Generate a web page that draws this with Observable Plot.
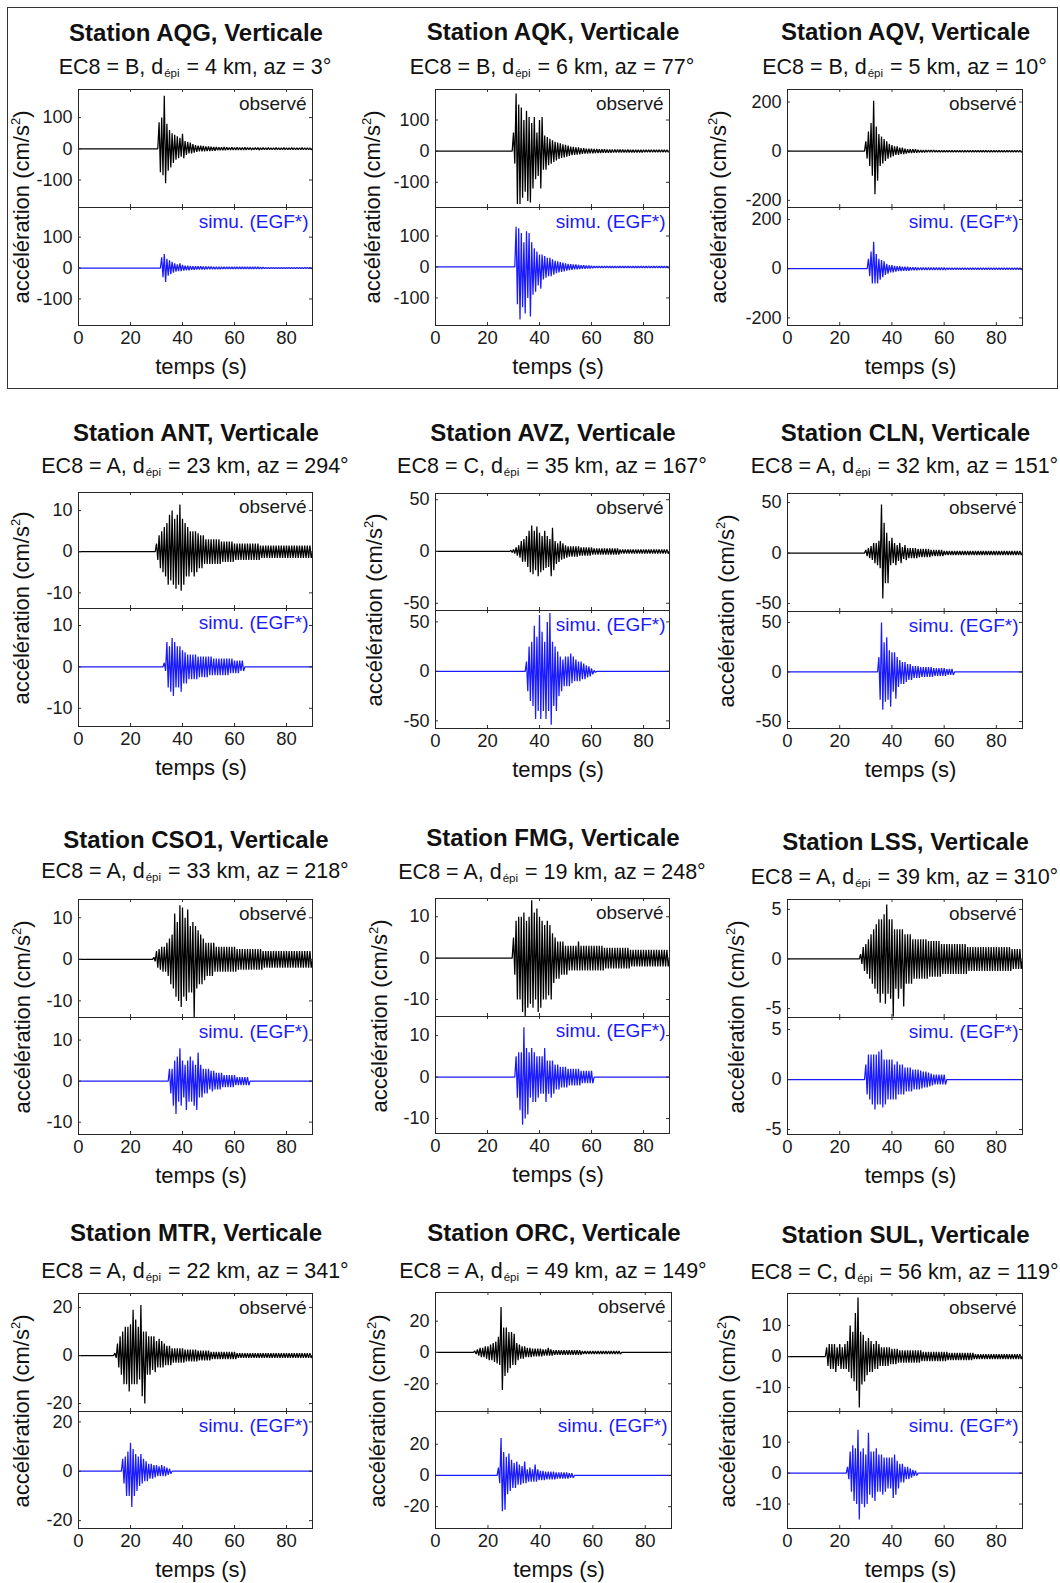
<!DOCTYPE html>
<html><head><meta charset="utf-8">
<script src="https://cdn.jsdelivr.net/npm/d3@7"></script>
<script src="https://cdn.jsdelivr.net/npm/@observablehq/plot@0.6"></script>
<style>
body{margin:0;background:#fff;font-family:"Liberation Sans",Arial,Helvetica,sans-serif;color:#111;}
#page{position:relative;width:1060px;height:1583px;overflow:hidden;}
.box{position:absolute;box-sizing:border-box;border:1.4px solid #333;}
.t{position:absolute;white-space:nowrap;transform:translate(-50%,-50%);line-height:1;}
.title{font-weight:bold;font-size:24px;}
.sub{font-size:21.5px;}
.sub .s{font-size:11.5px;position:relative;top:3px;margin:0 1px;}
.ylab{font-size:22px;transform:translate(-50%,-50%) rotate(-90deg);}
.ylab sup{font-size:13px;position:relative;top:-2px;vertical-align:top;}
.xlab{font-size:22px;}
.plot{position:absolute;}
</style></head>
<body><div id="page"></div>
<script>
// ---------- chart values ----------
const stations = ["AQG","AQK","AQV","ANT","AVZ","CLN","CSO1","FMG","LSS","MTR","ORC","SUL"];
const ec8 = ["B","B","B","A","C","A","A","A","A","A","A","C"];
const dEpi = [4,6,5,23,35,32,33,19,39,22,49,56];
const azimuth = [3,77,10,294,167,151,218,248,310,341,149,119];
const xTicks = [0,20,40,60,80];
const yTicks = [[-100,0,100],[-100,0,100],[-200,0,200],[-10,0,10],[-50,0,50],[-50,0,50],
                [-10,0,10],[-10,0,10],[-5,0,5],[-20,0,20],[-20,0,20],[-10,0,10]];
const obsDomain = [[-188,190],[-181,198],[-229,251],[-13.8,14.4],[-57,56],[-58,59],
                   [-14,14.4],[-14.1,14.4],[-5.9,6],[-23.3,25.8],[-37.7,38.3],[-17.7,20.3]];
const simDomain = [[-186,196],[-189,192],[-231,249],[-14.4,14.1],[-57.7,61.5],[-57,61],
                   [-13,15.5],[-13.6,14.6],[-5.5,6.2],[-23.2,24.2],[-34,41],[-17.9,19.9]];
// onset times (s) of each trace
const obsStart = [31,30,30,30,29,30,29,30,28,14,15,15];
const simStart = [32,31,31,33,35,35,35,31,30,17,24,23];

// peak envelopes (positive / negative) per second from onset
const aqgObsUp = [85,100,170,80,60,50,45,40,35,48,25,22,20,15,12,10,10,9,8,8,7,6,6,5,5,6,5,4,5,4,5,4,4,5,4,4,3,4,4,3,4,3,4,3,3,4,3,3,4,3,3,4,3,3,3,4,3,3,3];
const aqgObsDn = [-75,-85,-110,-70,-60,-45,-35,-30,-25,-30,-20,-15,-15,-12,-10,-8,-8,-8,-7,-7,-6,-6,-5,-5,-5,-5,-4,-4,-4,-4,-4,-4,-4,-4,-3,-4,-3,-3,-4,-3,-3,-3,-3,-3,-3,-3,-3,-3,-3,-3,-3,-3,-3,-3,-3,-3,-3,-3,-3];
const aqgSimUp = [35,45,30,25,20,15,12,15,10,8,8,7,6,6,6,6,5,5,5,5,4,4,4,4,4,4,4,4,4,4,4,4,4,4,4,4,4,4,3,3,2,2,2,2,2,2,2,2,2,2,2,2,2,2,2,2,2,2];
const aqgSimDn = [-30,-45,-25,-20,-15,-12,-10,-10,-8,-7,-7,-6,-6,-5,-5,-5,-5,-4,-4,-4,-4,-4,-4,-3,-3,-3,-3,-3,-3,-3,-3,-3,-3,-3,-3,-3,-3,-3,-3,-2,-2,-2,-2,-2,-2,-2,-2,-2,-2,-2,-2,-2,-2,-2,-2,-2,-2,-2];

const aqkObsUp = [60,185,150,140,100,130,110,90,110,60,100,110,50,45,40,35,30,28,25,22,20,18,15,14,12,12,10,10,8,8,8,7,7,6,6,6,5,5,5,5,5,5,5,4,5,4,4,4,4,4,4,4,4,4,4,4,4,4,4,4];
const aqkObsDn = [-40,-170,-170,-150,-130,-160,-165,-120,-90,-80,-120,-60,-60,-45,-40,-35,-30,-25,-22,-20,-18,-15,-13,-12,-11,-10,-9,-8,-8,-7,-7,-6,-6,-6,-5,-5,-5,-5,-4,-4,-4,-4,-4,-4,-4,-4,-4,-4,-4,-4,-3,-3,-3,-3,-3,-3,-3,-3,-3,-3];
const aqkSimUp = [130,125,110,80,115,110,80,60,50,40,40,35,30,30,25,20,18,16,14,12,10,9,8,8,7,6,6,5,5,4,3,3,3,3,3,3,3,3,3,3,3,3,3,3,3,3,3,3,3,3,3,3,3,3,3,3,3,3,3];
const aqkSimDn = [-120,-170,-130,-150,-100,-160,-90,-80,-60,-70,-40,-35,-30,-30,-25,-20,-18,-16,-14,-12,-10,-9,-8,-8,-7,-6,-6,-5,-5,-4,-3,-3,-3,-3,-3,-3,-3,-3,-3,-3,-3,-3,-3,-3,-3,-3,-3,-3,-3,-3,-3,-3,-3,-3,-3,-3,-3,-3,-3];

const aqvObsUp = [40,80,115,205,100,70,60,50,40,30,25,20,20,15,15,10,8,8,8,8,6,5,5,5,5,5,5,4,4,4,4,4,4,4,4,4,4,4,4,4,4,4,4,4,4,4,4,4,4,4,4,4,4,4,4,4,4,4,4,4];
const aqvObsDn = [-30,-60,-100,-175,-120,-60,-50,-40,-30,-25,-20,-15,-15,-12,-12,-10,-8,-7,-6,-6,-5,-5,-5,-4,-4,-4,-4,-4,-4,-4,-4,-4,-4,-4,-4,-4,-4,-4,-4,-4,-4,-4,-4,-4,-4,-4,-4,-4,-4,-4,-4,-4,-4,-4,-4,-4,-4,-4,-4,-4];
const aqvSimUp = [40,70,110,60,40,35,30,20,15,15,12,10,10,8,8,8,6,6,6,5,5,5,5,5,5,5,5,5,5,5,4,4,4,4,4,4,4,4,4,4,4,4,4,4,4,4,4,4,4,4,4,4,4,4,4,4,4,4,4];
const aqvSimDn = [-30,-60,-60,-60,-45,-35,-25,-20,-15,-15,-12,-10,-10,-8,-8,-8,-6,-6,-6,-5,-5,-5,-5,-5,-5,-5,-5,-5,-5,-5,-4,-4,-4,-4,-4,-4,-4,-4,-4,-4,-4,-4,-4,-4,-4,-4,-4,-4,-4,-4,-4,-4,-4,-4,-4,-4,-4,-4,-4];

const antObsUp = [2,4,5,6,7,9,10,8,9,11.5,8,7,6,5,5,5,4.5,4,4,3,3,3,3,3,3,2.5,2.5,2.5,2.5,2.5,2,2,2,2,2,2,2,2,2,2,1.5,1.5,1.5,1.5,1.5,1.5,1.5,1.5,1.5,1.5,1.5,1.5,1.5,1.5,1.5,1.5,1.5,1.5,1.5,1.5];
const antObsDn = [-2,-4,-5,-6,-8,-7,-8,-9,-8,-9.5,-8,-6,-6,-5,-6,-5,-4,-4,-3,-3,-3,-3,-3,-3,-3,-2.5,-2.5,-2.5,-2.5,-2.5,-2,-2,-2,-2,-2,-2,-2,-2,-2,-2,-1.5,-1.5,-1.5,-1.5,-1.5,-1.5,-1.5,-1.5,-1.5,-1.5,-1.5,-1.5,-1.5,-1.5,-1.5,-1.5,-1.5,-1.5,-1.5,-1.5];
const antSimUp = [1,6,5,7,6,5,5,4,3.5,3,3,3,3,2.5,2.5,2.5,2.5,2.5,2.5,2,2,2,2,2,2,2,2,1.5,1.5,1.5,1.5];
const antSimDn = [-1,-5,-6,-7,-5,-5,-6,-4,-4,-3,-3,-3,-3,-2.5,-2.5,-2.5,-2.5,-2,-2,-2,-2,-2,-2,-2,-2,-1.5,-1.5,-1.5,-1.5,-1,-1];

const avzObsUp = [1,2,4,6,10,12,15,20,25,20,24,18,15,20,15,12,23,10,8,10,8,6,5,5,5,5,5,4,4,4,4,4,3,3,3,3,3,3,3,3,3,3,2,2,2,2,2,2,2,2,2,2,2,2,2,2,2,2,2,2,2];
const avzObsDn = [-1,-2,-4,-6,-10,-10,-15,-20,-22,-18,-24,-20,-18,-16,-15,-24,-18,-12,-10,-8,-7,-6,-5,-5,-5,-5,-4,-4,-4,-4,-4,-3,-3,-3,-3,-3,-3,-3,-3,-3,-3,-3,-2,-2,-2,-2,-2,-2,-2,-2,-2,-2,-2,-2,-2,-2,-2,-2,-2,-2,-2];
const avzSimUp = [10,25,30,46,35,57,40,30,50,59,30,25,20,15,12,15,15,18,15,12,10,10,8,6,5,3,1];
const avzSimDn = [-20,-30,-35,-48,-40,-48,-40,-48,-40,-54,-35,-40,-25,-20,-15,-15,-15,-12,-10,-10,-10,-8,-8,-6,-5,-3,-1];

const clnObsUp = [3,5,7,10,10,12,48,30,20,12,15,10,8,10,6,8,5,5,5,5,4,4,4,4,4,3,3,3,3,3,2,2,2,2,2,2,2,2,2,2,2,2,2,2,2,2,2,2,2,2,2,2,2,2,2,2,2,2,2,2];
const clnObsDn = [-3,-5,-7,-10,-12,-15,-45,-30,-30,-12,-10,-12,-8,-10,-6,-7,-5,-5,-5,-5,-4,-4,-4,-4,-4,-3,-3,-3,-3,-3,-2,-2,-2,-2,-2,-2,-2,-2,-2,-2,-2,-2,-2,-2,-2,-2,-2,-2,-2,-2,-2,-2,-2,-2,-2,-2,-2,-2,-2,-2];
const clnSimUp = [15,50,30,35,22,20,20,15,12,10,10,8,8,6,6,6,5,5,5,5,5,4,4,4,4,4,3,3,3];
const clnSimDn = [-28,-38,-30,-28,-35,-20,-27,-15,-12,-12,-10,-8,-8,-6,-6,-6,-5,-5,-5,-5,-5,-4,-4,-4,-4,-4,-3,-3,-3];

const csoObsUp = [0.5,2,2.5,3,3,4,5,6,11,9,13,12.5,10,12,8,9,8,7,6,5,4,4,4,4,3,3,3,3,3,3,3,3,2.5,2.5,2.5,2.5,2.5,2.5,2.5,2.5,2.5,2.5,2,2,2,2,2,2,2,2,2,2,2,2,2,2,2,2,2,2,2];
const csoObsDn = [-0.5,-2,-2.5,-3,-3,-4,-6,-7,-9,-10,-11.5,-9,-10,-8,-8,-14,-7,-6,-6,-5,-4,-4,-4,-3,-3,-3,-3,-3,-3,-3,-3,-3,-2.5,-2.5,-2.5,-2.5,-2.5,-2.5,-2.5,-2.5,-2.5,-2.5,-2,-2,-2,-2,-2,-2,-2,-2,-2,-2,-2,-2,-2,-2,-2,-2,-2,-2,-2];
const csoSimUp = [3,3,5,6,8,5,4,5,6,5,4,7,4,3,3,3,2.5,2.5,2,2,2,1.5,1.5,1.5,1.5,1.5,1,1,1,1,1];
const csoSimDn = [-3,-6,-8,-5,-6,-4,-7,-5,-5,-6,-7,-4,-4,-3,-3,-2,-2.5,-2,-2,-2,-1.5,-1.5,-1.5,-1.5,-1.5,-1,-1,-1,-1,-1,-1];

const fmgObsUp = [5,9,10,10,11,9,10,14,11,12,10,9,8,9,8,6,5,4,4,4,3,3,3,3,3,4,3,3,3,3,3,3,3,3,3,2.5,2.5,2.5,2.5,2.5,2.5,2.5,2.5,2.5,2.5,2,2,2,2,2,2,2,2,2,2,2,2,2,2,2];
const fmgObsDn = [-4,-10,-10,-13,-14,-12,-11,-12,-10,-13,-12,-10,-10,-9,-10,-6,-5,-5,-4,-4,-4,-3,-3,-3,-3,-3,-3,-3,-3,-3,-3,-3,-3,-3,-3,-2.5,-2.5,-2.5,-2.5,-2.5,-2.5,-2.5,-2.5,-2.5,-2.5,-2,-2,-2,-2,-2,-2,-2,-2,-2,-2,-2,-2,-2,-2,-2];
const fmgSimUp = [5,6,6,12,7,6,7,6,5,5,5,7,4,4,4,3,3,2.5,2.5,2.5,2,2,2,2,2,1.5,1.5,1.5,1.5,1.5];
const fmgSimDn = [-5,-8,-11.5,-10,-9,-5,-6,-6,-5,-4,-4,-6,-4,-5,-4,-3,-3,-2.5,-2.5,-2.5,-2,-2,-2,-2,-2,-1.5,-1.5,-1.5,-1.5,-1.5];

const lssObsUp = [0.5,1.2,1.5,2,2.5,3,3.5,4,4,4.5,5.5,4,4,3,3,3,3,2.5,2.5,2.5,2,2,2,2,2,2,1.8,1.8,1.8,1.8,1.8,1.5,1.5,1.5,1.5,1.5,1.5,1.5,1.5,1.5,1.5,1.2,1.2,1.2,1.2,1.2,1.2,1.2,1.2,1.2,1.2,1.2,1.2,1.2,1.2,1.2,1.2,1.2,1,1,1,1];
const lssObsDn = [-0.5,-1.2,-1.5,-2,-2.5,-3,-3.5,-4.4,-3.5,-4.5,-3.5,-4,-5.8,-3,-4,-3,-4.8,-2.5,-2.5,-2.5,-2,-2,-2,-2,-2,-2,-1.8,-1.8,-1.8,-1.8,-1.8,-1.5,-1.5,-1.5,-1.5,-1.5,-1.5,-1.5,-1.5,-1.5,-1.5,-1.2,-1.2,-1.2,-1.2,-1.2,-1.2,-1.2,-1.2,-1.2,-1.2,-1.2,-1.2,-1.2,-1.2,-1.2,-1.2,-1.2,-1,-1,-1,-1];
const lssSimUp = [1.5,2.5,2.5,2.5,2.5,2.8,3,2,2,2,2,1.5,1.8,1.5,1.5,1.2,1.2,1.2,1,1,1,0.9,0.8,0.8,0.7,0.6,0.5,0.5,0.5,0.5,0.5];
const lssSimDn = [-1.5,-2,-2.5,-3,-2.5,-2.5,-2.8,-2.5,-2,-2,-2,-2,-1.5,-1.5,-1.5,-1.2,-1.2,-1.2,-1,-1,-1,-0.9,-0.8,-0.8,-0.7,-0.6,-0.5,-0.5,-0.5,-0.5,-0.5];

const mtrObsUp = [1,5,8,10,12,12,13,19,15,12,21,10,10,8,8,8,6,7,6,5,4,4,3,3,3,3,3,2.5,2.5,2.5,2.5,2.5,2,2,2,2,2,1.5,1.5,1.5,1.5,1.5,1.5,1.5,1.5,1.5,1.5,1,1,1,1,1,1,1,1,1,1,1,1,1,1,1,1,1,1,1,1,1,1,1,1,1,1,1,1,1];
const mtrObsDn = [-1,-5,-8,-12,-12,-15,-12,-12,-12,-10,-17,-20,-8,-8,-6,-7,-5,-5,-5,-4,-4,-4,-3,-3,-3,-3,-3,-2.5,-2.5,-2.5,-2.5,-2.5,-2,-2,-2,-2,-2,-1.5,-1.5,-1.5,-1.5,-1.5,-1.5,-1.5,-1.5,-1.5,-1.5,-1,-1,-1,-1,-1,-1,-1,-1,-1,-1,-1,-1,-1,-1,-1,-1,-1,-1,-1,-1,-1,-1,-1,-1,-1,-1,-1,-1,-1];
const mtrSimUp = [5,6,8,11.5,9,7,6,7,5,4,3,3,2.5,2.5,2,2.5,2,1.5,1];
const mtrSimDn = [-5,-10,-10,-14.5,-10,-8,-6,-5,-4,-4,-3,-3,-2.5,-2,-2,-2,-2,-1.5,-1];

const orcObsUp = [1,2,3,3,4,4,5,6,7,10,29,16,16,13,13,12,6,5,4,4,3,3,2.5,2.5,2.5,2.5,2,2,3,2,1.5,1.5,1.5,1.5,1.5,1.5,1.5,1.5,1.5,1.5,1.5,1,1,1,1,1,1,1,1,1,1,1,1,1,1,1];
const orcObsDn = [-1,-2,-3,-3,-4,-5,-5,-6,-7,-8,-24,-15,-13,-10,-8,-8,-5,-4,-4,-3,-3,-3,-2.5,-2.5,-2.5,-2.5,-2,-2,-2,-2,-1.5,-1.5,-1.5,-1.5,-1.5,-1.5,-1.5,-1.5,-1.5,-1.5,-1.5,-1,-1,-1,-1,-1,-1,-1,-1,-1,-1,-1,-1,-1,-1,-1];
const orcSimUp = [5,24,15,12,14,10,8,9,7,6,9,4,5,4,7,4,3,3,2.5,2.5,2.5,2.5,2,2,2,2,2,1.5,1.5];
const orcSimDn = [-5,-23,-22,-12,-10,-8,-8,-6,-6,-5,-5,-4,-4,-4,-4,-3,-3,-3,-2.5,-2.5,-2.5,-2.5,-2,-2,-2,-2,-2,-1.5,-1.5];

const sulObsUp = [3,4,4,4,3,4,3,4,5,10,8,14,19,8,7,5,6,5,4,5,4,3,3,3,3,2.5,2.5,2.5,2,2,2,2,2,2,2,2,2,1.5,1.5,1.5,1.5,1.5,1.5,1.5,1.5,1.5,1.5,1.2,1.2,1.2,1.2,1.2,1.2,1.2,1.2,1.2,1.2,0.8,0.8,0.8,0.8,0.8,0.8,0.8,0.8,0.8,0.8,0.8,0.8,0.8,0.8,0.8,0.8,0.8,0.8];
const sulObsDn = [-3,-4,-4,-5,-3,-4,-4,-4,-5,-7,-8,-11,-16.4,-9,-8,-6,-5,-5,-4,-4,-3,-3,-3,-3,-2.5,-2.5,-2.5,-2,-2,-2,-2,-2,-2,-2,-2,-2,-1.5,-1.5,-1.5,-1.5,-1.5,-1.5,-1.5,-1.5,-1.5,-1.5,-1.2,-1.2,-1.2,-1.2,-1.2,-1.2,-1.2,-1.2,-1.2,-1.2,-0.8,-0.8,-0.8,-0.8,-0.8,-0.8,-0.8,-0.8,-0.8,-0.8,-0.8,-0.8,-0.8,-0.8,-0.8,-0.8,-0.8,-0.8,-0.8];
const sulSimUp = [2,7,9,8,14,7,8,6,13,7,7,8,6,6,5,5,5,5,6,4,3,3,2,2,1.5,1,0.8];
const sulSimDn = [-2,-6,-9,-10,-15,-10,-11,-10,-7,-8,-9,-6,-6,-7,-6,-5,-5,-8,-7,-5,-3,-3,-2,-2,-1.5,-1,-0.8];

const obsUp = [aqgObsUp,aqkObsUp,aqvObsUp,antObsUp,avzObsUp,clnObsUp,csoObsUp,fmgObsUp,lssObsUp,mtrObsUp,orcObsUp,sulObsUp];
const obsDn = [aqgObsDn,aqkObsDn,aqvObsDn,antObsDn,avzObsDn,clnObsDn,csoObsDn,fmgObsDn,lssObsDn,mtrObsDn,orcObsDn,sulObsDn];
const simUp = [aqgSimUp,aqkSimUp,aqvSimUp,antSimUp,avzSimUp,clnSimUp,csoSimUp,fmgSimUp,lssSimUp,mtrSimUp,orcSimUp,sulSimUp];
const simDn = [aqgSimDn,aqkSimDn,aqvSimDn,antSimDn,avzSimDn,clnSimDn,csoSimDn,fmgSimDn,lssSimDn,mtrSimDn,orcSimDn,sulSimDn];

// ---------- layout (page pixels) ----------
const frameL = [78,435,787, 78,435,787, 78,435,787, 78,435,787];
const frameR = [312,669,1022, 312,669,1022, 312,669,1022, 312,671,1022];
const frameT = [89,89,89, 492,493,493, 899,898,899, 1293,1292,1293];
const frameM = [207,207,207, 608,610,611, 1017,1016,1017, 1411,1411,1411];
const frameB = [325,325,325, 726,728,728, 1134,1133,1134, 1528,1528,1528];
const titleY = [33,32,32, 433,433,433, 840,838,842, 1233,1233,1235];
const subY   = [68,68,68, 467,467,467, 872,873,878, 1272,1272,1273];
const ylabDX = [-56,-62,-68, -56,-60,-60, -55,-55,-50, -56,-57,-59];

const FONT = '"Liberation Sans", Arial, Helvetica, sans-serif';
const BLUE = "#1a1aff";
const page = document.getElementById("page");

function addText(cls, html, x, y){
  const d = document.createElement("div");
  d.className = "t " + cls; d.innerHTML = html;
  d.style.left = x + "px"; d.style.top = y + "px";
  page.appendChild(d);
}

function trace(t0, up, dn){
  const pts = [{t:0, v:0}, {t:t0 - 0.5, v:0}];
  up.forEach((u, i) => {
    pts.push({t: t0 + i, v: u});
    if (i < dn.length) pts.push({t: t0 + i + 0.5, v: dn[i]});
  });
  pts.push({t: t0 + up.length, v: 0}, {t: 90, v: 0});
  return pts;
}

function panelPlot(i, kind){
  const isObs = kind === "obs";
  const L = frameL[i], R = frameR[i];
  const top = isObs ? frameT[i] : frameM[i];
  const bot = isObs ? frameM[i] : frameB[i];
  const FW = R - L, FH = bot - top;
  const ML = 64, MR = 6, MT = 2, MB = isObs ? 2 : 40;
  const pts = isObs ? trace(obsStart[i], obsUp[i], obsDn[i]) : trace(simStart[i], simUp[i], simDn[i]);
  const color = isObs ? "#000" : BLUE;
  const marks = [
    Plot.line(pts, {x: "t", y: "v", stroke: color, strokeWidth: 1.25, strokeLinejoin: "miter", clip: true}),
    Plot.tickY(yTicks[i], {y: d => d, insetRight: FW - 3, stroke: "#333"}),
    Plot.tickY(yTicks[i], {y: d => d, insetLeft: FW - 3, stroke: "#333"}),
    Plot.tickX(xTicks, {x: d => d, insetTop: FH - 3, stroke: "#333"}),
    Plot.tickX(xTicks, {x: d => d, insetBottom: FH - 3, stroke: "#333"}),
    Plot.frame({stroke: "#262626", strokeWidth: 1}),
    Plot.axisY({ticks: yTicks[i], tickSize: 0, tickPadding: 6, tickFormat: d => String(d), label: null, fontSize: 18, fill: "#1a1a1a"}),
    Plot.text([isObs ? "observé" : "simu. (EGF*)"], {frameAnchor: "top-right", dx: isObs ? -6 : -4, dy: 14, textAnchor: "end", lineAnchor: "middle", fontSize: 19, fill: isObs ? "#1a1a1a" : BLUE})
  ];
  if (!isObs) marks.push(Plot.axisX({ticks: xTicks, tickSize: 0, tickPadding: 5, tickFormat: d => String(d), label: null, fontSize: 18.5, fill: "#1a1a1a"}));
  const svg = Plot.plot({
    width: ML + FW + MR, height: MT + FH + MB,
    marginLeft: ML, marginRight: MR, marginTop: MT, marginBottom: MB,
    x: {domain: [0, 90], label: null, ...(isObs ? {axis: null} : {})},
    y: {domain: isObs ? obsDomain[i] : simDomain[i], label: null},
    style: {fontFamily: FONT, fontSize: "18.5px", background: "transparent", overflow: "visible", color: "#1a1a1a"},
    marks
  });
  svg.classList.add("plot");
  svg.style.left = (L - ML) + "px";
  svg.style.top = (top - MT) + "px";
  page.appendChild(svg);
}

// box around the first row
const box = document.createElement("div");
box.className = "box";
Object.assign(box.style, {left: "7px", top: "7px", width: "1051px", height: "382px"});
page.appendChild(box);

stations.forEach((s, i) => {
  const cx = (frameL[i] + frameR[i]) / 2;
  addText("title", `Station ${s}, Verticale`, cx + 1, titleY[i]);
  addText("sub", `EC8 = ${ec8[i]}, d<span class="s">épi</span> = ${dEpi[i]} km, az = ${azimuth[i]}°`, cx, subY[i]);
  panelPlot(i, "obs");
  panelPlot(i, "sim");
  addText("ylab", `accélération (cm/s<sup>2</sup>)`, frameL[i] + ylabDX[i], frameM[i]);
  addText("xlab", `temps (s)`, cx + 6, frameB[i] + 42);
});
</script>
</body></html>
